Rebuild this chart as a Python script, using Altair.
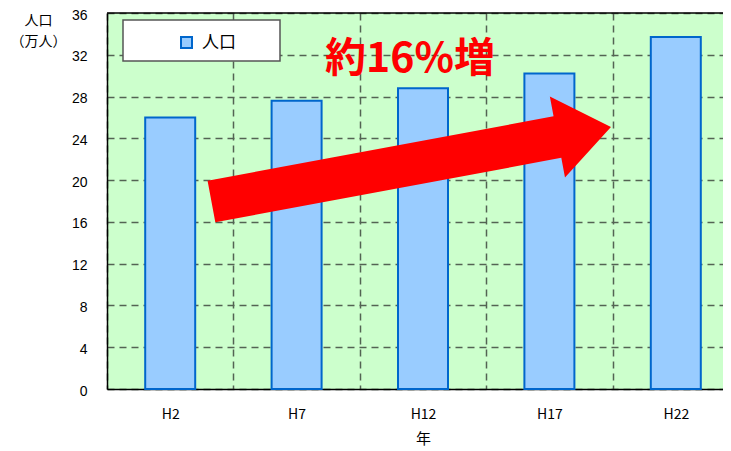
import altair as alt
import pandas as pd

# ---- data ----
years = ["H2", "H7", "H12", "H17", "H22"]
population = [26.0, 27.6, 28.8, 30.2, 33.7]   # 万人
series_name = "人口"
annotation_text = "約16%増"

df = pd.DataFrame({"年": years, "人口": population, "系列": [series_name] * len(years)})

FONT_JP = "Noto Sans CJK JP"
GRID_COLOR = "#536353"
GRID_DASH = [7, 5]

x_enc = alt.X(
    "年:N",
    sort=years,
    scale=alt.Scale(range=[0, 632], paddingInner=0, paddingOuter=0),
    axis=alt.Axis(
        title="年",
        titleFont=FONT_JP,
        titleFontSize=15,
        titleFontWeight="normal",
        titleColor="#000000",
        titleX=316,
        titleY=49,
        titleBaseline="middle",
        labelAngle=0,
        labelFont=FONT_JP,
        labelFontSize=14,
        labelColor="#000000",
        labelPadding=18,
        labelBaseline="top",
        ticks=False,
        tickSize=0,
        tickBand="extent",
        grid=True,
        gridColor=GRID_COLOR,
        gridDash=GRID_DASH,
        gridWidth=1.5,
        domainColor="#000000",
        domainWidth=1.5,
    ),
)

y_enc = alt.Y(
    "人口:Q",
    scale=alt.Scale(domain=[0, 36], nice=False),
    axis=alt.Axis(
        title=["人口", "（万人）"],
        titleAngle=0,
        titleAlign="center",
        titleBaseline="alphabetic",
        titleX=-69,
        titleY=11,
        titleLineHeight=21,
        titleFont=FONT_JP,
        titleFontSize=14,
        titleFontWeight="normal",
        titleColor="#000000",
        values=list(range(0, 37, 4)),
        labelFont="Liberation Sans",
        labelFontSize=14,
        labelColor="#000000",
        labelPadding=20,
        labelOffset=2,
        ticks=False,
        tickSize=0,
        grid=True,
        gridColor=GRID_COLOR,
        gridDash=GRID_DASH,
        gridWidth=1.5,
        domainColor="#000000",
        domainWidth=1.5,
    ),
)

bars = alt.Chart(df).mark_bar(
    size=50, stroke="#0066CC", strokeWidth=2, opacity=1
).encode(
    x=x_enc,
    y=y_enc,
    color=alt.Color(
        "系列:N",
        scale=alt.Scale(range=["#99CCFF"]),
        legend=alt.Legend(
            title=None,
            orient="none",
            legendX=71,
            legendY=21,
            padding=0,
            symbolType="square",
            symbolSize=121,
            symbolStrokeColor="#0066CC",
            symbolStrokeWidth=2,
            symbolOpacity=1,
            labelFont=FONT_JP,
            labelFontSize=17,
            labelColor="#000000",
            labelOffset=7,
        ),
    ),
)

one_row = alt.Data(values=[{}])

top_border = alt.Chart(one_row).mark_rule(
    color="#000000", strokeWidth=1.5
).encode(x=alt.value(0), x2=alt.value(616), y=alt.value(0))

legend_box = alt.Chart(one_row).mark_rect(
    fill="#FFFFFF", stroke="#555555", strokeWidth=1.5
).encode(
    x=alt.value(16), x2=alt.value(173), y=alt.value(7), y2=alt.value(48)
)

arrow_path = "M -1 -0.104 L 0.732 -0.104 L 0.732 -0.203 L 1 0 L 0.732 0.203 L 0.732 0.104 L -1 0.104 Z"
arrow = alt.Chart(one_row).mark_point(
    shape=arrow_path,
    filled=True,
    fill="#FF0000",
    stroke="#FF0000",
    strokeWidth=0,
    opacity=1,
    size=406.4 ** 2,
    angle=349.44,
).encode(x=alt.value(304.2), y=alt.value(151.3))

label = alt.Chart(one_row).mark_text(
    text=annotation_text,
    font=FONT_JP,
    fontSize=41,
    fontWeight="bold",
    color="#FF0000",
    align="center",
    baseline="middle",
).encode(x=alt.value(303), y=alt.value(47))

chart = alt.layer(bars, top_border, legend_box, arrow, label).properties(
    width=616,
    height=376,
    autosize=alt.AutoSizeParams(type="none"),
    padding={"left": 99, "top": 5, "right": 0, "bottom": 62},
    background="#FFFFFF",
).configure_view(
    fill="#CCFFCC", strokeWidth=0
)

chart.save("out.html", embed_options={"renderer": "svg", "actions": False})
